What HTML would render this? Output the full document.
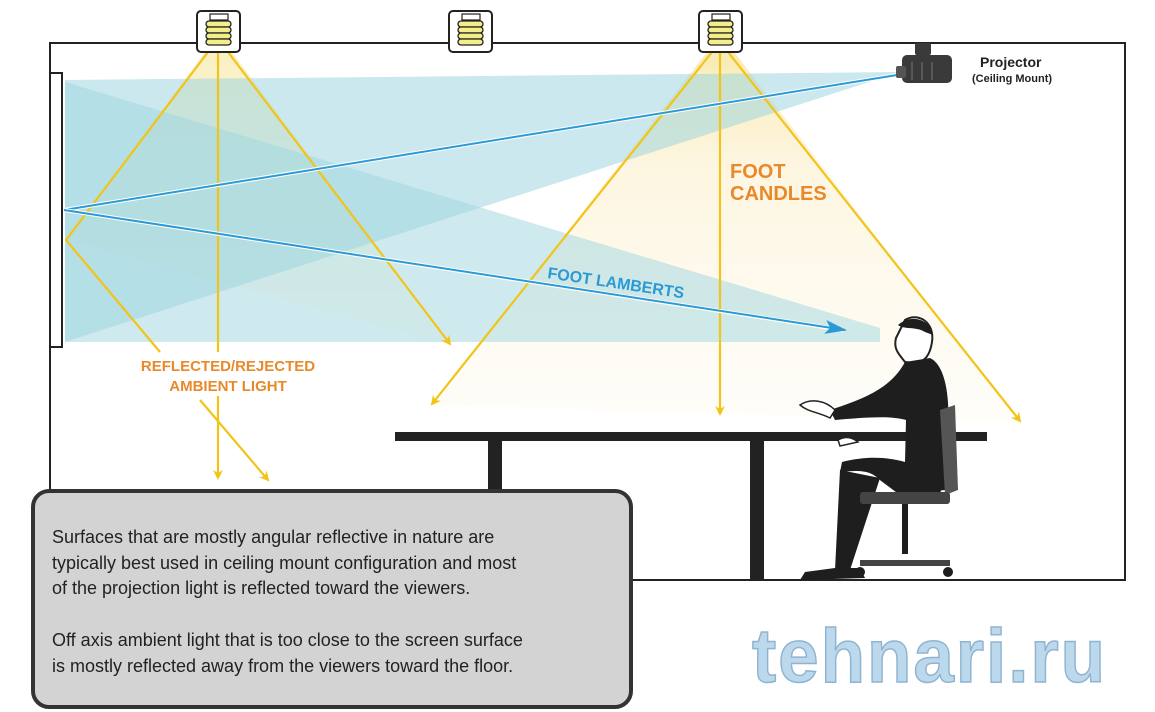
<!DOCTYPE html>
<html><head><meta charset="utf-8"><style>
html,body{margin:0;padding:0;background:#fff;}
svg{display:block;font-family:"Liberation Sans",Arial,sans-serif;}
</style></head><body>
<svg width="1155" height="712" viewBox="0 0 1155 712" xmlns="http://www.w3.org/2000/svg">
<defs>
<linearGradient id="yf" x1="0" y1="0" x2="0" y2="1">
<stop offset="0" stop-color="#f6e7a0" stop-opacity="0.9"/>
<stop offset="1" stop-color="#fdf6dc" stop-opacity="0.4"/>
</linearGradient>
<linearGradient id="yf2" x1="0" y1="0" x2="0" y2="1">
<stop offset="0" stop-color="#f6e7a0" stop-opacity="0.8"/>
<stop offset="0.3" stop-color="#fcf1d2" stop-opacity="0.7"/>
<stop offset="1" stop-color="#fefbf2" stop-opacity="0.5"/>
</linearGradient>
<marker id="ay" markerWidth="10" markerHeight="10" refX="8" refY="5" orient="auto" markerUnits="userSpaceOnUse"><path d="M0,0 L10,5 L0,10 L3,5z" fill="#f2c418"/></marker>
<marker id="ab" markerWidth="22" markerHeight="14" refX="20" refY="7" orient="auto" markerUnits="userSpaceOnUse"><path d="M0,0 L22,7 L0,14 L5,7z" fill="#2a9ad6"/></marker>
</defs>
<path d="M50,490 V43 H1125 V580 H630" fill="none" stroke="#222" stroke-width="2"/>
<polygon points="205,52 232,52 450,345 66,240" fill="url(#yf)" opacity="0.7"/>
<polygon points="707,52 734,52 1020,422 432,405" fill="url(#yf2)"/>
<polygon points="900,72 65,80 65,342" fill="#9fd6df" opacity="0.55"/>
<polygon points="65,82 880,328 880,342 65,342" fill="#9fd6df" opacity="0.5"/>
<rect x="50" y="73" width="12" height="274" fill="#fff" stroke="#222" stroke-width="2"/>
<g stroke="#f2c418" stroke-width="2.2" fill="none">
<line x1="218" y1="52" x2="218" y2="352"/>
<line x1="218" y1="396" x2="218" y2="478" marker-end="url(#ay)"/>
<polyline points="208,52 66,240 160,352"/>
<line x1="200" y1="400" x2="268" y2="480" marker-end="url(#ay)"/>
<line x1="228" y1="52" x2="450" y2="344" marker-end="url(#ay)"/>
<line x1="712" y1="52" x2="432" y2="404" marker-end="url(#ay)"/>
<line x1="720" y1="52" x2="720" y2="414" marker-end="url(#ay)"/>
<line x1="728" y1="52" x2="1020" y2="421" marker-end="url(#ay)"/>
</g>
<line x1="897" y1="75" x2="64" y2="210" stroke="#fff" stroke-width="4"/>
<line x1="897" y1="75" x2="64" y2="210" stroke="#2a9ad6" stroke-width="2"/>
<line x1="64" y1="210" x2="843" y2="330" stroke="#fff" stroke-width="4"/>
<line x1="64" y1="210" x2="845" y2="330" stroke="#2a9ad6" stroke-width="2" marker-end="url(#ab)"/>
<g>
<rect x="197" y="11" width="43" height="41" rx="4" fill="#fff" stroke="#222" stroke-width="2"/>
<rect x="449" y="11" width="43" height="41" rx="4" fill="#fff" stroke="#222" stroke-width="2"/>
<rect x="699" y="11" width="43" height="41" rx="4" fill="#fff" stroke="#222" stroke-width="2"/>
<g fill="#f3ee8a" stroke="#222" stroke-width="1.3">
<rect x="206" y="21" width="25" height="6" rx="3"/><rect x="206" y="27" width="25" height="6" rx="3"/><rect x="206" y="33" width="25" height="6" rx="3"/><rect x="206" y="39" width="25" height="6" rx="3"/>
<rect x="458" y="21" width="25" height="6" rx="3"/><rect x="458" y="27" width="25" height="6" rx="3"/><rect x="458" y="33" width="25" height="6" rx="3"/><rect x="458" y="39" width="25" height="6" rx="3"/>
<rect x="708" y="21" width="25" height="6" rx="3"/><rect x="708" y="27" width="25" height="6" rx="3"/><rect x="708" y="33" width="25" height="6" rx="3"/><rect x="708" y="39" width="25" height="6" rx="3"/>
</g>
<g fill="#fff" stroke="#222" stroke-width="1.2">
<rect x="210" y="14" width="18" height="6"/><rect x="462" y="14" width="18" height="6"/><rect x="712" y="14" width="18" height="6"/>
</g>
</g>
<g fill="#3a3a3a">
<rect x="915" y="43" width="16" height="12" rx="2"/>
<rect x="902" y="55" width="50" height="28" rx="5"/>
<rect x="896" y="66" width="10" height="12" rx="2" fill="#555"/>
</g>
<g stroke="#777" stroke-width="1"><line x1="912" y1="62" x2="912" y2="80"/><line x1="922" y1="62" x2="922" y2="80"/><line x1="932" y1="62" x2="932" y2="80"/></g>
<text x="980" y="67" font-size="14" font-weight="bold" fill="#222">Projector</text>
<text x="972" y="82" font-size="11" font-weight="bold" fill="#222">(Ceiling Mount)</text>
<g fill="#e8892a" font-weight="bold">
<text x="730" y="178" font-size="20">FOOT</text>
<text x="730" y="200" font-size="20">CANDLES</text>
<text x="228" y="371" font-size="15" text-anchor="middle">REFLECTED/REJECTED</text>
<text x="228" y="391" font-size="15" text-anchor="middle">AMBIENT LIGHT</text>
</g>
<text x="547" y="278" font-size="16" font-weight="bold" fill="#2a9ad6" transform="rotate(8.5 547 278)">FOOT LAMBERTS</text>
<rect x="395" y="432" width="592" height="9" fill="#222"/>
<rect x="488" y="441" width="14" height="55" fill="#222"/>
<rect x="750" y="441" width="14" height="139" fill="#222"/>
<g fill="#1e1e1e">
<path d="M905,320 C918,312 935,322 932,342 C930,355 925,362 915,363 L905,362 C900,355 893,350 896,338 Z" fill="#fff" stroke="#222" stroke-width="2"/>
<path d="M898,325 C910,314 930,318 933,335 L925,332 C915,326 905,330 898,325Z"/>
<path d="M905,362 L930,358 C945,365 950,395 948,430 L945,490 L900,495 L880,480 C870,470 860,470 840,472 L842,462 C870,455 890,458 905,462 L906,420 C890,415 860,418 835,420 L830,410 C860,400 890,390 905,362Z"/>
<path d="M880,480 L900,495 L940,495 L942,485 L880,478 Z"/>
<path d="M840,470 L880,478 L850,570 L835,570 Z"/>
<path d="M835,568 L860,568 L865,578 L800,580 L805,572Z"/>
<path d="M940,410 L955,405 L958,490 L945,495Z" fill="#555"/>
<rect x="860" y="492" width="90" height="12" rx="3" fill="#444"/>
<rect x="902" y="504" width="6" height="50"/>
<path d="M860,560 H950 V566 H860Z" fill="#444"/>
<circle cx="860" cy="572" r="5"/><circle cx="948" cy="572" r="5"/>
<path d="M800,405 C810,398 825,400 835,410 L830,418 C818,412 808,412 800,405Z" fill="#fff" stroke="#222" stroke-width="1.5"/>
<path d="M838,440 C845,436 852,437 858,442 L840,446Z" fill="#fff" stroke="#222" stroke-width="1.5"/>
</g>
<rect x="33" y="491" width="598" height="216" rx="16" fill="#d3d3d3" stroke="#333" stroke-width="4"/>
<g font-size="18" fill="#222">
<text x="52" y="543">Surfaces that are mostly angular reflective in nature are</text>
<text x="52" y="569">typically best used in ceiling mount configuration and most</text>
<text x="52" y="594">of the projection light is reflected toward the viewers.</text>
<text x="52" y="646">Off axis ambient light that is too close to the screen surface</text>
<text x="52" y="672">is mostly reflected away from the viewers toward the floor.</text>
</g>
<text x="752" y="682" font-size="76" font-weight="bold" fill="#bcd8ec" stroke="#8fb4d0" stroke-width="1.5" letter-spacing="2" textLength="355" lengthAdjust="spacingAndGlyphs">tehnari.ru</text>
</svg>
</body></html>
